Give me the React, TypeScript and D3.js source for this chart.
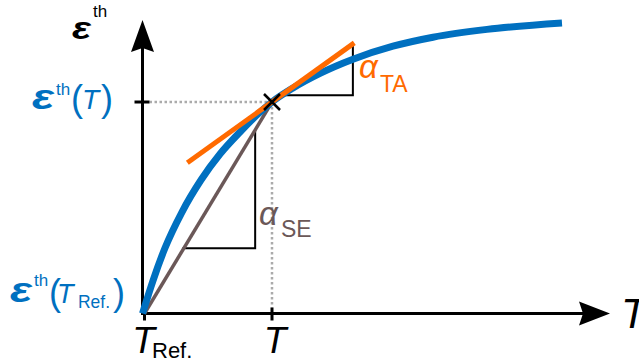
import React from "react";
import * as d3 from "d3";

const W = 639;
const H = 362;

// Thermal strain curve samples: temperature (x) and strain (y), arbitrary units
const curveT = [0, 2.25, 4.81, 8.45, 12.51, 16.58, 20.86, 24.71, 27.7, 32.19, 37.97, 45.03, 53.58, 62.14, 73.69, 89.73];
const curveEps = [0, 11.24, 22.32, 34.58, 45.49, 54.34, 61.84, 67.97, 72.06, 76.83, 81.81, 86.64, 91.07, 94.14, 96.8, 98.98];

// Reference and evaluation points
const T_REF = 0;
const EPS_REF = 0;
const T_VAL = 27.7;
const EPS_T = 72.06;

// Tangent (alpha_TA) at T
const TANGENT_SLOPE = 1.145;
const tangentSpan = [9.6, 45.3];
// Slope triangle for the tangent: horizontal level and run end
const taStep = [74.4, 45.0];
// Slope triangle for the secant: horizontal level and run end
const seStep = [22.2, 24.1];

const FONT = "'Liberation Sans', Arial, sans-serif";
const BLUE = "#0070C0";
const ORANGE = "#FF6A00";
const TAUPE = "#6B5858";
const GREY = "#ABABAB";

// Wide, heavy epsilon glyph used for the strain symbol
function Eps({ x, y, size, fill }: { x: number; y: number; size: number; fill: string }) {
  return (
    <text
      transform={`translate(${x},${y}) scale(1.28,1)`}
      fontSize={size}
      fontWeight="bold"
      fontStyle="italic"
      fill={fill}
    >
      ε
    </text>
  );
}

export default function App() {
  const x = d3.scaleLinear().domain([0, 100]).range([142.5, 610]);
  const y = d3.scaleLinear().domain([0, 100]).range([313.5, 20]);

  const x0 = x(0);
  const y0 = y(0);
  const xTip = x(100);
  const yTip = y(100);

  const pts = curveT.map((t, i) => [t, curveEps[i]] as [number, number]);
  const curvePath = d3
    .line<[number, number]>()
    .x((d) => x(d[0]))
    .y((d) => y(d[1]))
    .curve(d3.curveMonotoneX)(pts) as string;

  const tangentY = (t: number) => EPS_T + TANGENT_SLOPE * (t - T_VAL);
  const tanX1 = tangentSpan[0];
  const tanX2 = tangentSpan[1];

  // Tangent slope triangle
  const taLevel = taStep[0];
  const taEnd = taStep[1];
  const taStart = T_VAL + (taLevel - EPS_T) / TANGENT_SLOPE;

  // Secant slope triangle
  const secSlope = (EPS_T - EPS_REF) / (T_VAL - T_REF);
  const seLevel = seStep[0];
  const seEnd = seStep[1];
  const seStart = T_REF + (seLevel - EPS_REF) / secSlope;
  const seTop = EPS_REF + secSlope * (seEnd - T_REF);

  const px = x(T_VAL);
  const py = y(EPS_T);

  return (
    <svg width={W} height={H} style={{ position: "absolute", left: 0, top: 0 }}>
      <rect width={W} height={H} fill="#fff" />

      {/* guide lines to the evaluation point */}
      <line x1={x0 + 7} y1={py} x2={px} y2={py} stroke={GREY} strokeWidth={2.5} strokeDasharray="2.5 2.5" />
      <line x1={px} y1={py} x2={px} y2={y0 - 6} stroke={GREY} strokeWidth={2.5} strokeDasharray="2.5 2.5" />

      {/* slope triangles */}
      <polyline
        points={`${x(taStart)},${y(taLevel)} ${x(taEnd)},${y(taLevel)} ${x(taEnd)},${y(tangentY(taEnd))}`}
        fill="none"
        stroke="#000"
        strokeWidth={2}
      />
      <polyline
        points={`${x(seStart)},${y(seLevel)} ${x(seEnd)},${y(seLevel)} ${x(seEnd)},${y(seTop)}`}
        fill="none"
        stroke="#000"
        strokeWidth={2}
      />

      {/* axes */}
      <line x1={x0} y1={y0} x2={xTip - 20} y2={y0} stroke="#000" strokeWidth={3} />
      <line x1={x0} y1={y0 + 1.5} x2={x0} y2={yTip + 20} stroke="#000" strokeWidth={3} />
      <path
        d={`M${xTip},${y0} L${xTip - 31},${y0 - 12} L${xTip - 27},${y0} L${xTip - 31},${y0 + 12} Z`}
        fill="#000"
      />
      <path
        d={`M${x0},${yTip} L${x0 - 11.5},${yTip + 32} L${x0},${yTip + 28} L${x0 + 11.5},${yTip + 32} Z`}
        fill="#000"
      />

      {/* ticks */}
      <line x1={x(T_REF) + 2} y1={y0 - 5} x2={x(T_REF) + 2} y2={y0 + 7} stroke="#000" strokeWidth={3} />
      <line x1={px} y1={y0 - 6} x2={px} y2={y0 + 7} stroke="#000" strokeWidth={3} />
      <line x1={x0 - 8} y1={py} x2={x0 + 7} y2={py} stroke="#000" strokeWidth={3} />

      {/* secant */}
      <line x1={x(T_REF) + 2} y1={y(EPS_REF)} x2={px} y2={py} stroke={TAUPE} strokeWidth={3.5} />

      {/* thermal strain curve */}
      <path d={curvePath} fill="none" stroke={BLUE} strokeWidth={7} />

      {/* tangent */}
      <line x1={x(tanX1)} y1={y(tangentY(tanX1))} x2={x(tanX2)} y2={y(tangentY(tanX2))} stroke={ORANGE} strokeWidth={5} />

      {/* evaluation point marker */}
      <path
        d={`M${px - 8},${py - 8} L${px + 8},${py + 8} M${px - 8},${py + 8} L${px + 8},${py - 8}`}
        stroke="#000"
        strokeWidth={2.5}
      />

      <g fontFamily={FONT}>
        {/* y-axis title */}
        <Eps x={72} y={39} size={31} fill="#000" />
        <text x={93} y={17} fontSize={17} fill="#000">th</text>

        {/* eps(T) */}
        <Eps x={32} y={109} size={36} fill={BLUE} />
        <text x={56} y={95} fontSize={17} fill={BLUE}>th</text>
        <text x={71} y={111} fontSize={36} fill={BLUE}>(</text>
        <text x={82} y={109} fontSize={28} fontStyle="italic" fill={BLUE}>T</text>
        <text x={101} y={111} fontSize={36} fill={BLUE}>)</text>

        {/* eps(T_Ref.) */}
        <Eps x={10} y={302} size={36} fill={BLUE} />
        <text x={34} y={286} fontSize={17} fill={BLUE}>th</text>
        <text x={49} y={305} fontSize={36} fill={BLUE}>(</text>
        <text x={57} y={303} fontSize={27} fontStyle="italic" fill={BLUE}>T</text>
        <text x={78} y={308} fontSize={19} textLength={32} lengthAdjust="spacingAndGlyphs" fill={BLUE}>Ref.</text>
        <text x={113} y={305} fontSize={36} fill={BLUE}>)</text>

        {/* x-axis tick labels */}
        <text x={x(T_REF) + 1} y={353} fontSize={37} fontStyle="italic" textAnchor="middle" fill="#000">T</text>
        <text x={152} y={358} fontSize={22} fill="#000">Ref.</text>
        <text x={px + 3} y={353} fontSize={37} fontStyle="italic" textAnchor="middle" fill="#000">T</text>

        {/* x-axis title */}
        <text x={621} y={328} fontSize={42} fontStyle="italic" fill="#000">T</text>

        {/* slope labels */}
        <text x={359} y={78} fontSize={33} fontStyle="italic" fill={ORANGE}>α</text>
        <text x={380} y={92} fontSize={23} fill={ORANGE}>TA</text>
        <text x={259} y={225} fontSize={33} fontStyle="italic" fill={TAUPE}>α</text>
        <text x={281} y={237} fontSize={23} fill={TAUPE}>SE</text>
      </g>
    </svg>
  );
}
